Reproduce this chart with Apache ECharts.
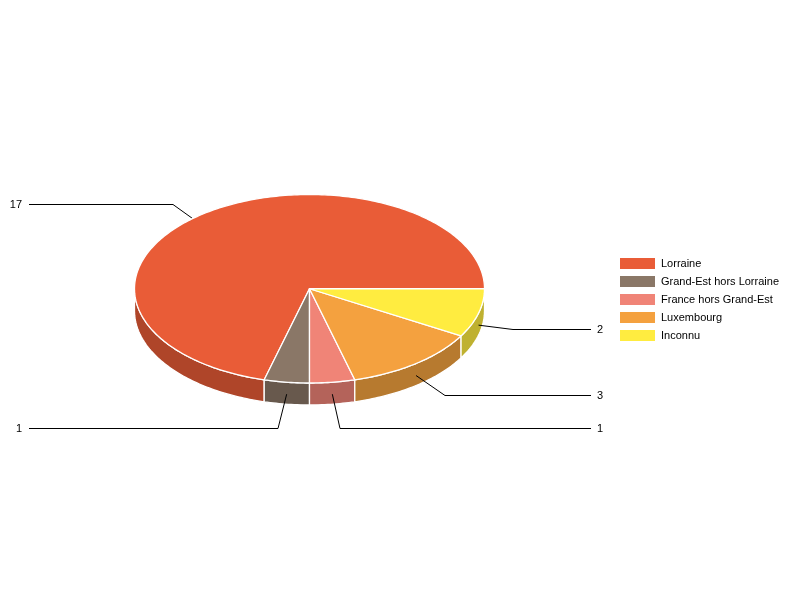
<!DOCTYPE html>
<html>
<head>
<meta charset="utf-8">
<style>html,body{margin:0;padding:0;background:#fff}#c{width:800px;height:600px}</style>
<script src="https://cdn.jsdelivr.net/npm/echarts@6/dist/echarts.min.js"></script>
</head>
<body>
<div id="c"></div>
<script>
var categories = ['Lorraine', 'Grand-Est hors Lorraine', 'France hors Grand-Est', 'Luxembourg', 'Inconnu'];
var values = [17, 1, 1, 3, 2];
var topColors = ['#E95C37', '#8A7767', '#F08477', '#F4A13F', '#FFEC40'];
var wallColors = ['#AF4529', '#68594D', '#B4635A', '#B77A2F', '#BFB130'];
var labelSides = ['left', 'left', 'right', 'right', 'right'];
var labelYs = [204.5, 428.5, 428.5, 395.5, 329.5];
var elbowXs = [173, 278, 340, 445, 513];

var DEPTH = 22, ANCHOR_DROP = 12, LEFT_END = 29, RIGHT_END = 591;
var total = values.reduce(function (a, b) { return a + b; }, 0);

var cumulative = [];
values.reduce(function (sum, v, i) { cumulative[i] = sum; return sum + v; }, 0);

function rimPoint(api, deg) {
  var r = deg * Math.PI / 180;
  return api.coord([Math.cos(r), Math.sin(r)]);
}
function arc(api, a0, a1) {
  var pts = [], n = Math.max(1, Math.ceil(a1 - a0));
  for (var i = 0; i <= n; i++) pts.push(rimPoint(api, a0 + (a1 - a0) * i / n));
  return pts;
}
function makeRender(idx) {
  return function (params, api) {
    var a0 = api.value(1) / total * 360;
    var a1 = (api.value(1) + api.value(0)) / total * 360;
    var centre = api.coord([0, 0]);
    var children = [];

    var wa0 = Math.max(a0, 180), wa1 = Math.max(a1, 180);
    if (wa1 > wa0) {
      var rim = arc(api, wa0, wa1);
      var low = rim.map(function (p) { return [p[0], p[1] + DEPTH]; }).reverse();
      children.push({
        type: 'polygon', z2: 1,
        shape: { points: rim.concat(low) },
        style: { fill: wallColors[idx], stroke: '#fff', lineWidth: 1.3, lineJoin: 'round' }
      });
    }

    var mid = rimPoint(api, (a0 + a1) / 2);
    var anchor = [mid[0], mid[1] + ANCHOR_DROP];
    var y = labelYs[idx], left = labelSides[idx] === 'left';
    children.push({
      type: 'polyline', z2: 2,
      shape: { points: [anchor, [elbowXs[idx], y], [left ? LEFT_END : RIGHT_END, y]] },
      style: { fill: null, stroke: '#000', lineWidth: 1 }
    });
    children.push({
      type: 'text', z2: 4,
      x: left ? LEFT_END - 7 : RIGHT_END + 6, y: y + 0.5,
      style: {
        text: String(api.value(0)), fill: '#000',
        font: '11px "Liberation Sans", Arial, sans-serif',
        align: left ? 'right' : 'left', verticalAlign: 'middle'
      }
    });

    children.push({
      type: 'polygon', z2: 3,
      shape: { points: [centre].concat(arc(api, a0, a1)) },
      style: { fill: topColors[idx], stroke: '#fff', lineWidth: 1.3, lineJoin: 'round' }
    });
    return { type: 'group', children: children };
  };
}

var chart = echarts.init(document.getElementById('c'), null, { renderer: 'canvas' });
chart.setOption({
  animation: false,
  backgroundColor: '#fff',
  grid: { left: 134.5, top: 194.5, width: 350, height: 188.5 },
  xAxis: { type: 'value', min: -1, max: 1, show: false },
  yAxis: { type: 'value', min: -1, max: 1, show: false },
  legend: {
    left: 620, top: 258, padding: 0, orient: 'vertical', icon: 'rect', selectedMode: false,
    itemWidth: 35, itemHeight: 11, itemGap: 7,
    data: categories,
    textStyle: { color: '#000', fontSize: 11, fontFamily: '"Liberation Sans", Arial, sans-serif', padding: [4, 0, 0, 1] }
  },
  series: categories.map(function (name, i) {
    return {
      type: 'custom', name: name, coordinateSystem: 'cartesian2d',
      clip: false, silent: true,
      itemStyle: { color: topColors[i] },
      data: [[values[i], cumulative[i]]],
      renderItem: makeRender(i)
    };
  })
});
</script>
</body>
</html>
